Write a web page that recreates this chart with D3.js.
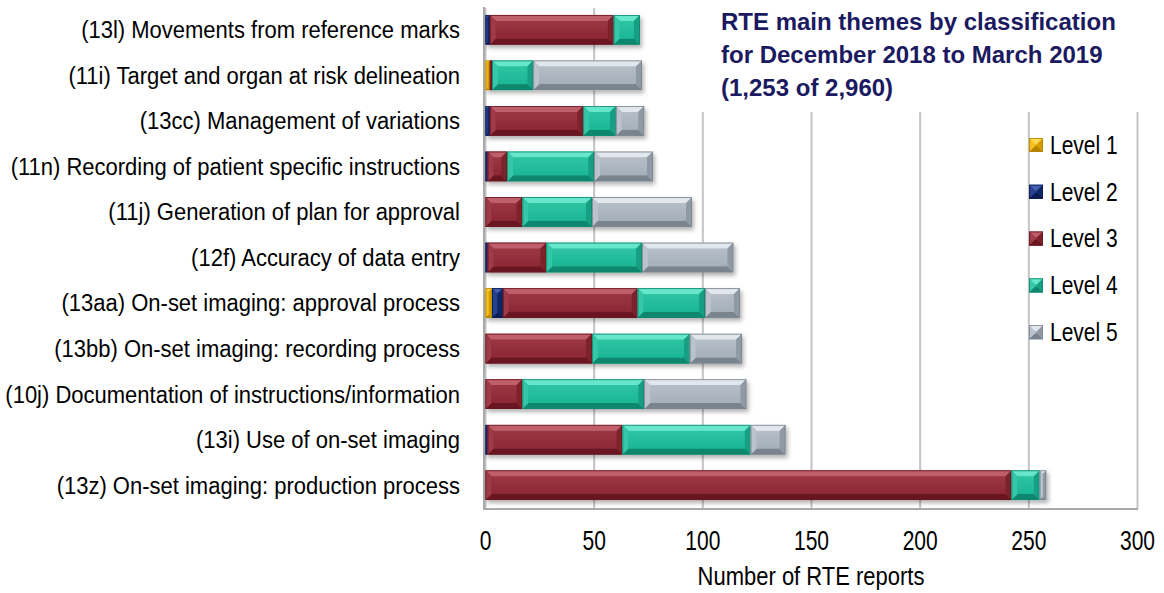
<!DOCTYPE html>
<html>
<head>
<meta charset="utf-8">
<script src="https://cdn.jsdelivr.net/npm/d3@7"></script>
<style>
  body { margin: 0; background: #fff; }
  text { font-family: "Liberation Sans", Arial, sans-serif; fill: #000; }
  .title { font-weight: bold; fill: #1b1a61; }
</style>
</head>
<body>
<svg id="chart" width="1164" height="593"></svg>
<script>
// categories, top to bottom
var categories = [
    "(13l) Movements from reference marks",
    "(11i) Target and organ at risk delineation",
    "(13cc) Management of variations",
    "(11n) Recording of patient specific instructions",
    "(11j) Generation of plan for approval",
    "(12f) Accuracy of data entry",
    "(13aa) On-set imaging: approval process",
    "(13bb) On-set imaging: recording process",
    "(10j) Documentation of instructions/information",
    "(13i) Use of on-set imaging",
    "(13z) On-set imaging: production process"
];
var levelNames = ["Level 1", "Level 2", "Level 3", "Level 4", "Level 5"];

// values
var level1 = [0, 2, 0, 0, 0, 0, 3, 0, 0, 0, 0];
var level2 = [2, 0, 2, 1, 0, 1, 5, 0, 0, 1, 0];
var level3 = [57, 1, 43, 9, 17, 27, 62, 49, 17, 62, 242];
var level4 = [12, 19, 15, 40, 32, 44, 31, 45, 56, 59, 13];
var level5 = [0, 50, 13, 27, 46, 42, 16, 24, 47, 16, 3];
var tickValues = [0, 50, 100, 150, 200, 250, 300];

var titleLines = ["RTE main themes by classification", "for December 2018 to March 2019", "(1,253 of 2,960)"];

// colours: face, light bevel, dark bevel
var palette = [
    { face: "#f0b400", light: "#ffd955", dark: "#b58300" },
    { face: "#17317c", light: "#4261b0", dark: "#0b1b52" },
    { face: "#8d2835", light: "#bf5e6a", dark: "#691823" },
    { face: "#1bb796", light: "#66e6ca", dark: "#11876e" },
    { face: "#a6b0ba", light: "#e1e7ec", dark: "#7a848e" }
];

var svg = d3.select("#chart");
var margin = { top: 7, left: 485, right: 27, bottom: 85 };
var plotW = 1164 - margin.left - margin.right;
var plotH = 593 - margin.top - margin.bottom;

var x = d3.scaleLinear().domain([0, 300]).range([margin.left, margin.left + plotW]);
var y = d3.scaleBand().domain(categories)
    .range([margin.top, margin.top + plotH])
    .paddingInner(0.35).paddingOuter(0.175);

// build a stacked table from the arrays
var table = categories.map(function(c, i) {
    return { cat: c, l1: level1[i], l2: level2[i], l3: level3[i], l4: level4[i], l5: level5[i] };
});
var keys = ["l1", "l2", "l3", "l4", "l5"];
var series = d3.stack().keys(keys)(table);

var defs = svg.append("defs");
var shadow = defs.append("filter").attr("id", "shadow")
    .attr("x", "-5%").attr("y", "-30%").attr("width", "115%").attr("height", "180%");
shadow.append("feDropShadow").attr("dx", 2).attr("dy", 3).attr("stdDeviation", 2)
    .attr("flood-color", "#000").attr("flood-opacity", 0.3);

palette.forEach(function(p, i) {
    var g = defs.append("linearGradient").attr("id", "face" + i)
        .attr("x1", 0).attr("y1", 0).attr("x2", 0).attr("y2", 1);
    g.append("stop").attr("offset", "0%").attr("stop-color", d3.interpolateRgb(p.face, p.light)(0.25));
    g.append("stop").attr("offset", "100%").attr("stop-color", p.face);
});

// gridlines + tick labels via the axis (labels are tall, so stretch them)
var xAxis = d3.axisBottom(x).tickValues(tickValues).tickSize(-plotH).tickPadding(17);
var axisG = svg.append("g")
    .attr("transform", "translate(0," + (margin.top + plotH + 1) + ")")
    .call(xAxis);
axisG.select(".domain").remove();
axisG.selectAll(".tick line").attr("stroke", "#c4c4c4").attr("stroke-width", 2);
axisG.selectAll(".tick text")
    .style("font-size", "21px")
    .attr("fill", "#000")
    .attr("transform", "scale(1,1.28)");

// plot frame (left + bottom)
svg.append("line")
    .attr("x1", x(0) - 1).attr("x2", x(0) - 1)
    .attr("y1", margin.top).attr("y2", margin.top + plotH + 1)
    .attr("stroke", "#a9a9a9").attr("stroke-width", 2);
svg.append("line")
    .attr("x1", x(0) - 2).attr("x2", x(300) + 1)
    .attr("y1", margin.top + plotH + 1).attr("y2", margin.top + plotH + 1)
    .attr("stroke", "#a9a9a9").attr("stroke-width", 2);

// white title box covers the gridlines behind it
svg.append("rect").attr("x", 700).attr("y", 0).attr("width", 464).attr("height", 112).attr("fill", "#fff");
svg.append("g").selectAll("text")
    .data(titleLines).enter().append("text")
    .attr("class", "title")
    .attr("x", 721)
    .attr("y", function(d, i) { return 30 + i * 33; })
    .style("font-size", "24px")
    .text(function(d) { return d; });

// draw one bevelled segment
function bevel(g, x0, x1, y0, y1, ci) {
    var p = palette[ci];
    var w = x1 - x0, h = y1 - y0;
    if (w <= 0) return;
    var b = Math.min(6, w / 2, h / 2);
    g.append("rect").attr("x", x0).attr("y", y0).attr("width", w).attr("height", h).attr("fill", p.face);
    var polys = [
        [[x0, y0], [x1, y0], [x1 - b, y0 + b], [x0 + b, y0 + b], p.light],
        [[x0, y1], [x1, y1], [x1 - b, y1 - b], [x0 + b, y1 - b], p.dark],
        [[x0, y0], [x0 + b, y0 + b], [x0 + b, y1 - b], [x0, y1], d3.interpolateRgb(p.face, p.light)(0.35)],
        [[x1, y0], [x1 - b, y0 + b], [x1 - b, y1 - b], [x1, y1], d3.interpolateRgb(p.face, p.dark)(0.5)]
    ];
    polys.forEach(function(pl) {
        g.append("polygon").attr("points", pl.slice(0, 4).map(function(pt) { return pt.join(","); }).join(" "))
            .attr("fill", pl[4]);
    });
    if (w - 2 * b > 0) {
        g.append("rect").attr("x", x0 + b).attr("y", y0 + b).attr("width", w - 2 * b).attr("height", h - 2 * b)
            .attr("fill", "url(#face" + ci + ")");
    }
    g.append("rect").attr("x", x0 + 0.4).attr("y", y0 + 0.4).attr("width", Math.max(0, w - 0.8)).attr("height", h - 0.8)
        .attr("fill", "none").attr("stroke", p.dark).attr("stroke-width", 0.8);
}

// bars
categories.forEach(function(c, i) {
    var row = svg.append("g").attr("filter", "url(#shadow)");
    series.forEach(function(s, k) {
        var seg = s[i];
        bevel(row, x(seg[0]) + 0.5, x(seg[1]) + 0.5, y(c), y(c) + y.bandwidth(), k);
    });
});

// category labels
svg.append("g").selectAll("text")
    .data(categories).enter().append("text")
    .attr("transform", function(d) { return "translate(460," + (y(d) + y.bandwidth() / 2) + ") scale(1,1.09)"; })
    .attr("dy", "0.35em")
    .attr("text-anchor", "end")
    .style("font-size", "22px")
    .text(function(d) { return d; });

// legend
var legend = svg.append("g").selectAll("g")
    .data(levelNames).enter().append("g")
    .attr("transform", function(d, i) { return "translate(1029," + (145 + i * 46.8) + ")"; });
legend.each(function(d, i) {
    bevel(d3.select(this), 0, 14, -7, 7, i);
});
legend.append("text")
    .attr("transform", "translate(21,0) scale(1,1.19)")
    .attr("dy", "0.35em")
    .style("font-size", "21px")
    .text(function(d) { return d; });

// axis title
svg.append("text")
    .attr("transform", "translate(" + x(150) + ",585) scale(1,1.2)")
    .attr("text-anchor", "middle")
    .style("font-size", "22px")
    .text("Number of RTE reports");
</script>
</body>
</html>
